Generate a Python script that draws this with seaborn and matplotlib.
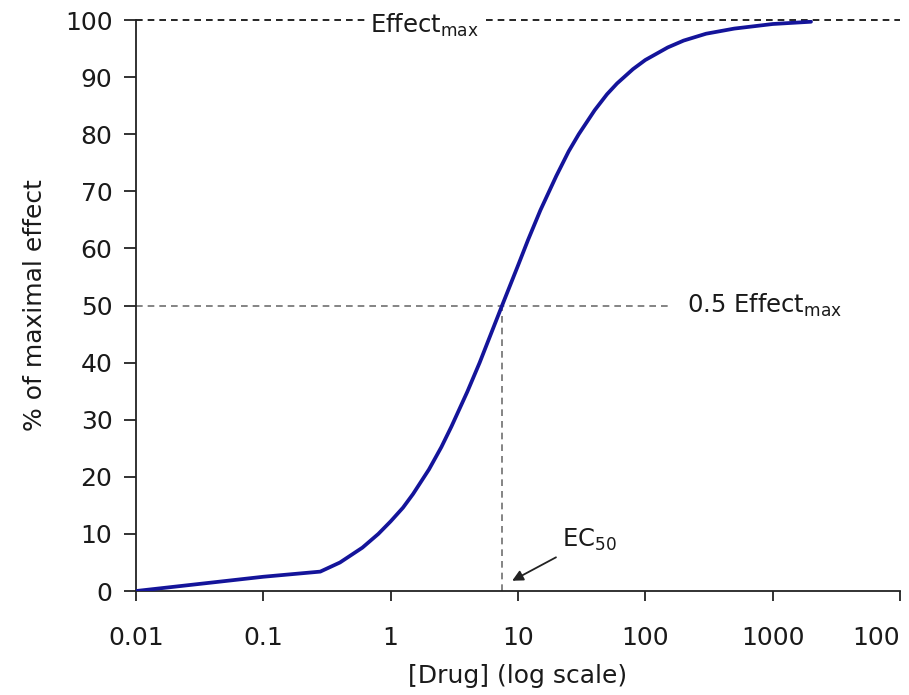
import numpy as np
import pandas as pd
import matplotlib
matplotlib.use("Agg")
import matplotlib.pyplot as plt
import seaborn as sns

# dose-response values
drug = [0.01, 0.1, 0.28, 0.4, 0.6, 0.8, 1, 1.25, 1.5, 2, 2.5, 3, 4, 5, 6, 7.5, 10, 12, 15, 20, 25, 30,
        40, 50, 60, 80, 100, 150, 200, 300, 500, 1000, 2000]
effect = [0, 2.5, 3.4, 5, 7.6, 10, 12.2, 14.6, 17, 21.3, 25.2, 28.8, 34.9, 40, 44.5, 50, 57, 61.5,
          66.7, 72.7, 77, 80, 84.2, 87, 88.9, 91.4, 93, 95.2, 96.4, 97.6, 98.5, 99.3, 99.7]

x_ticks = [0.01, 0.1, 1, 10, 100, 1000, 10000]
x_tick_labels = ["0.01", "0.1", "1", "10", "100", "1000", "100"]
y_ticks = list(range(0, 101, 10))

ec50 = 7.5
half_line_end = 150

df = pd.DataFrame({"drug": drug, "effect": effect})

sns.set_style("ticks")
plt.rcParams["font.family"] = ["DejaVu Sans"]
txt = "#1a1a1a"

fig = plt.figure(figsize=(9.09, 6.95), dpi=100)
ax = fig.add_axes([0.1496, 0.1496, 0.8405, 0.8216])

sns.lineplot(data=df, x="drug", y="effect", color="#14149a", linewidth=2.7, ax=ax, zorder=4)
ax.set_xscale("log")
ax.set_xlim(0.01, 10000)
ax.set_ylim(0, 100)

# reference lines
ax.plot([0.01, 10000], [100, 100], color="black", lw=1.2, ls=(0, (4, 3)), clip_on=False, zorder=2)
ax.plot([0.01, half_line_end], [50, 50], color="#707070", lw=1.2, ls=(0, (4, 3)), zorder=2)
ax.plot([ec50, ec50], [0, 50], color="#707070", lw=1.2, ls=(0, (4, 3)), zorder=2)

ax.text(1.85, 99.0, r"Effect$_{\mathrm{max}}$", fontsize=17.5, color=txt, ha="center", va="center",
        bbox=dict(facecolor="white", edgecolor="none", pad=2), zorder=3)
ax.text(212, 50, r"0.5 Effect$_{\mathrm{max}}$", fontsize=17.5, color=txt, ha="left", va="center")
ax.annotate(r"EC$_{50}$", xy=(9.0, 1.8), xytext=(22, 9.0), fontsize=17.5, color=txt,
            ha="left", va="center",
            arrowprops=dict(arrowstyle="-|>", color="#222222", lw=1.3, mutation_scale=16,
                            shrinkA=2, shrinkB=0))

ax.set_xticks(x_ticks)
ax.set_xticklabels(x_tick_labels)
ax.xaxis.set_minor_locator(matplotlib.ticker.NullLocator())
ax.set_yticks(y_ticks)

ax.tick_params(axis="both", labelsize=18, colors="#222222", labelcolor=txt, width=1.3)
ax.tick_params(axis="y", length=9, pad=8)
ax.tick_params(axis="x", length=7.5, pad=18)
ax.get_xticklabels()[-1].set_horizontalalignment("right")
for s in ["left", "bottom"]:
    ax.spines[s].set_linewidth(1.3)
    ax.spines[s].set_color("#222222")
sns.despine(ax=ax)

ax.set_xlabel("[Drug] (log scale)", fontsize=18, color=txt, labelpad=10)
ax.set_ylabel("% of maximal effect", fontsize=18, color=txt, labelpad=13)

fig.savefig("out.png", dpi=100)
